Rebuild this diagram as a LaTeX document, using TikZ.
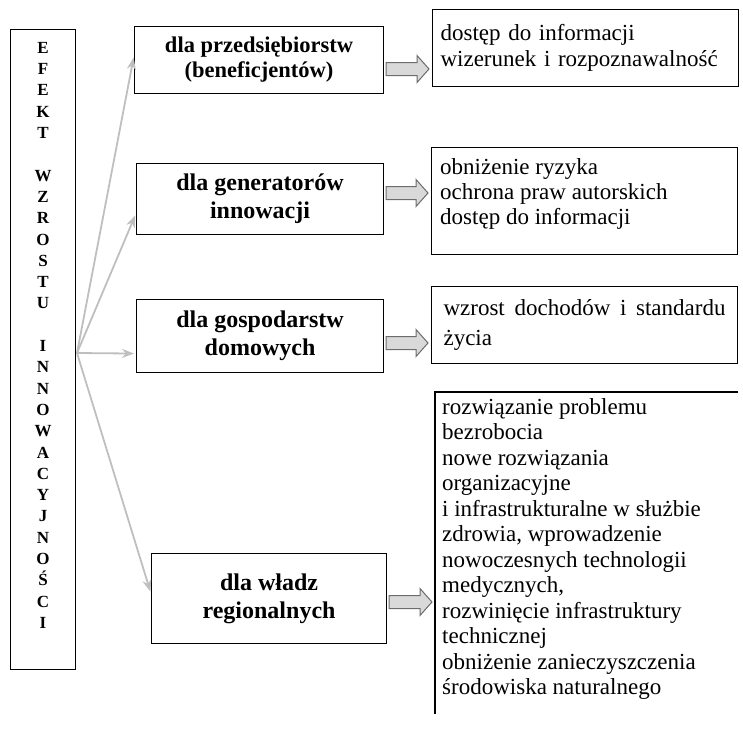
\documentclass[tikz,border=0pt]{standalone}
\usepackage{fontspec}
\setmainfont{Liberation Serif}
\usetikzlibrary{calc,arrows.meta}

% strzalka blokowa (szara, wypelniona)
\newcommand{\fatarrow}[3]{%
  \coordinate (fa-s) at ($(#1 |- 0,#3)+(2,0)$);
  \coordinate (fa-e) at ($(#2 |- 0,#3)+(-3,0)$);
  \draw[fat] ($(fa-s)+(0,-6.5)$) -- ($(fa-e)+(-12,-6.5)$) -- ($(fa-e)+(-12,-13.5)$)
    -- (fa-e) -- ($(fa-e)+(-12,13.5)$) -- ($(fa-e)+(-12,6.5)$) -- ($(fa-s)+(0,6.5)$) -- cycle;}

\begin{document}
\begin{tikzpicture}[x=1pt, y=-1pt, >={Stealth[length=12pt,width=9pt]},
  box/.style={draw, line width=1.1pt, inner sep=0pt, anchor=north west},
  grupa/.style={box, align=center, font=\bfseries\fontsize{24}{28}\selectfont},
  efekt/.style={box, inner xsep=8pt, align=left, text width=290pt, minimum width=306pt},
  opis/.style={inner sep=0pt, align=left, anchor=north west},
  fat/.style={draw=gray!85!black, fill=gray!30, line width=1pt},
  link/.style={->, draw=gray!50, fill=gray!50, line width=1.8pt, shorten >=2pt}]

  \useasboundingbox (0,0) rectangle (743,729);

  % Kolumna pionowa
  \node[box, minimum width=65pt, minimum height=640pt] (kol) at (10,29) {};
  \node[inner sep=0pt, align=center, anchor=north, font=\bfseries\fontsize{17}{21.3}\selectfont]
    (kollbl) at ($(kol.north)+(0,13)$)
    {E\\F\\E\\K\\T\\~\\W\\Z\\R\\O\\S\\T\\U\\~\\I\\N\\N\\O\\W\\A\\C\\Y\\J\\N\\O\\Ś\\C\\I};

  % Punkt rozgalezienia
  \coordinate (hub) at (77,353);

  % Grupy odbiorcow
  \node[grupa, font=\bfseries\fontsize{22.5}{25}\selectfont, minimum width=249pt, minimum height=67pt]
    (b1) at (134,26) {dla przedsiębiorstw\\(beneficjentów)};
  \node[grupa, minimum width=247pt, minimum height=71pt] (b2) at (136,163) {dla generatorów\\innowacji};
  \node[grupa, minimum width=247pt, minimum height=73pt] (b3) at (136,299) {dla gospodarstw\\domowych};
  \node[grupa, minimum width=235pt, minimum height=90pt] (b4) at (151,553) {dla władz\\regionalnych};

  % Efekty
  \node[efekt, minimum height=77pt, font=\fontsize{23}{26}\selectfont] (r1) at (432,9)
    {dostęp do informacji\\wizerunek i rozpoznawalność};
  \node[box, minimum width=306pt, minimum height=107pt] (r2) at (431,147) {};
  \node[opis, font=\fontsize{23}{25}\selectfont] (r2txt) at ($(r2.north west)+(9,11)$)
    {obniżenie ryzyka\\ochrona praw autorskich\\dostęp do informacji};
  \node[efekt, align=justify, text width=282pt, minimum height=77pt, font=\fontsize{23}{30}\selectfont]
    (r3) at (431,286) {wzrost dochodów i standardu życia};

  % Ostatnia ramka - tylko gora i lewy bok
  \node[box, draw=none, minimum width=302pt, minimum height=321pt] (r4) at (435,392) {};
  \draw[line width=1.1pt] (r4.north east) -- (r4.north west) -- (r4.south west);
  \node[opis, font=\fontsize{23}{25.5}\selectfont] (r4txt) at ($(r4.north west)+(7,6)$)
    {rozwiązanie problemu\\bezrobocia\\nowe rozwiązania\\organizacyjne\\
     i infrastrukturalne w służbie\\zdrowia, wprowadzenie\\nowoczesnych technologii\\
     medycznych,\\rozwinięcie infrastruktury\\technicznej\\obniżenie zanieczyszczenia\\
     środowiska naturalnego};

  % Strzalki z kolumny
  \draw[link] (hub) -- ([yshift=4.5pt]b1.west);
  \draw[link] (hub) -- ([yshift=-14.5pt]b2.west);
  \draw[link] (hub) -- ([yshift=-17.5pt]b3.west);
  \draw[link] (hub) -- ([yshift=5pt]b4.west);

  % Strzalki blokowe
  \fatarrow{b1.east}{r1.west}{69}
  \fatarrow{b2.east}{r2.west}{193}
  \fatarrow{b3.east}{r3.west}{343}
  \fatarrow{b4.east}{r4.west}{602}

\end{tikzpicture}
\end{document}
